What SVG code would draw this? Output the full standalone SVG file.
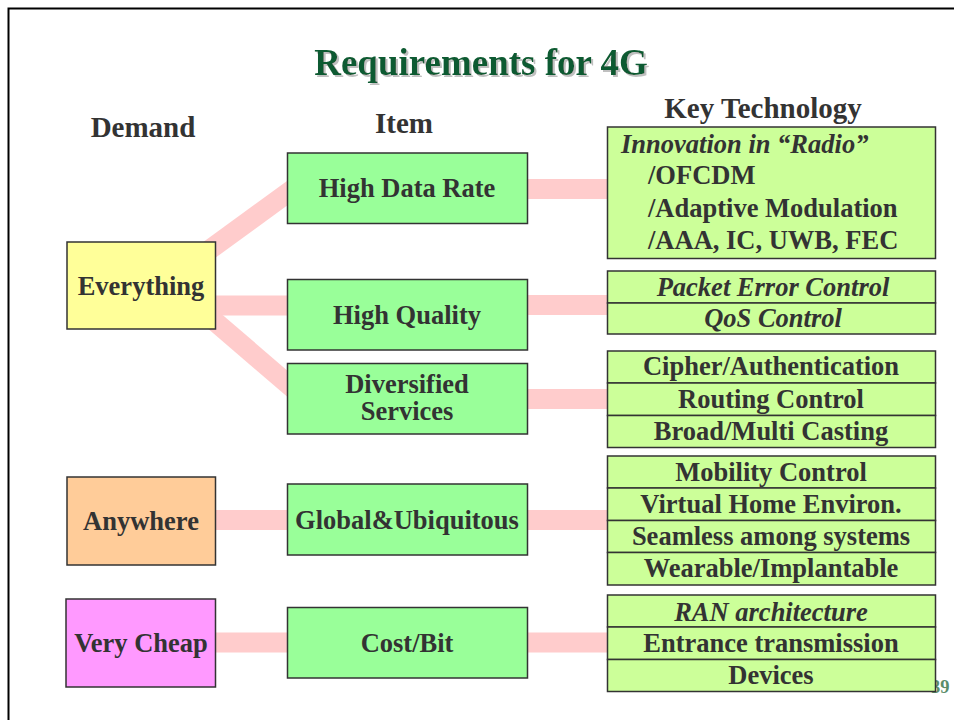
<svg xmlns="http://www.w3.org/2000/svg" width="954" height="720" viewBox="0 0 954 720">
  <style>
    .t { font-family: "Liberation Serif", "Times New Roman", serif; font-weight: bold; fill: #333333; }
    .b { font-size: 26.5px; }
    .c { text-anchor: middle; }
    .i { font-style: italic; }
    .h { font-size: 29px; }
    .box { stroke: #333333; stroke-width: 1.5; }
    .dem1 { fill: #ffff99; }
    .dem2 { fill: #ffcc99; }
    .dem3 { fill: #ff99ff; }
    .item { fill: #99ff99; }
    .tech { fill: #ccff99; }
    .link { stroke: #ffcccc; stroke-width: 20; fill: none; }
  </style>
  <defs>
    <!-- soft grey drop shadow for the title -->
    <filter id="titleShadow" x="-5%" y="-20%" width="110%" height="150%">
      <feOffset in="SourceAlpha" dx="2" dy="2" result="off"/>
      <feFlood flood-color="#c0c0c0"/>
      <feComposite in2="off" operator="in" result="shadow"/>
      <feMerge>
        <feMergeNode in="shadow"/>
        <feMergeNode in="SourceGraphic"/>
      </feMerge>
    </filter>
  </defs>

  <rect x="0" y="0" width="954" height="720" fill="#ffffff"/>

  <!-- slide frame -->
  <path d="M8.5 720 V8.5 H954" fill="none" stroke="#000000" stroke-width="2"/>

  <!-- title -->
  <g id="title">
    <text x="481" y="75" class="t c" filter="url(#titleShadow)" style="font-size:37px;fill:#0d5a30">Requirements for 4G</text>
  </g>

  <!-- column headers -->
  <g id="headers">
    <text x="143" y="137" class="t h c">Demand</text>
    <text x="404" y="133" class="t h c">Item</text>
    <text x="763" y="118" class="t h c">Key Technology</text>
  </g>

  <!-- page number (partly under the last technology box) -->
  <text x="931" y="693" class="t" style="font-size:18.5px;fill:#5b8d6b">39</text>

  <!-- connectors -->
  <g id="connectors">
    <line class="link" x1="205" y1="253" x2="297" y2="186"/>
    <line class="link" x1="205" y1="305.5" x2="297" y2="305.5"/>
    <line class="link" x1="205" y1="313" x2="297" y2="392"/>
    <line class="link" x1="520" y1="189" x2="615" y2="189"/>
    <line class="link" x1="520" y1="305" x2="615" y2="305"/>
    <line class="link" x1="520" y1="399" x2="615" y2="399"/>
    <line class="link" x1="205" y1="520" x2="615" y2="520"/>
    <line class="link" x1="205" y1="642.5" x2="615" y2="642.5"/>
  </g>

  <!-- demand nodes -->
  <g id="everything">
    <rect class="box dem1" x="67" y="242" width="148.5" height="87"/>
    <text x="141" y="295" class="t b c">Everything</text>
  </g>
  <g id="anywhere">
    <rect class="box dem2" x="67" y="477" width="148.5" height="88"/>
    <text x="141" y="530" class="t b c">Anywhere</text>
  </g>
  <g id="very-cheap">
    <rect class="box dem3" x="66" y="599" width="149.5" height="88"/>
    <text x="141" y="652" class="t b c">Very Cheap</text>
  </g>

  <!-- item nodes -->
  <g id="high-data-rate">
    <rect class="box item" x="287.5" y="153" width="240" height="70.5"/>
    <text x="407" y="197" class="t b c">High Data Rate</text>
  </g>
  <g id="high-quality">
    <rect class="box item" x="287.5" y="279.5" width="240" height="70.5"/>
    <text x="407" y="324" class="t b c">High Quality</text>
  </g>
  <g id="diversified-services">
    <rect class="box item" x="287.5" y="363.5" width="240" height="70.5"/>
    <text x="407" y="393" class="t b c">Diversified<tspan x="407" dy="27">Services</tspan></text>
  </g>
  <g id="global-ubiquitous">
    <rect class="box item" x="287.5" y="484" width="240" height="71"/>
    <text x="407" y="528.5" class="t b c">Global&amp;Ubiquitous</text>
  </g>
  <g id="cost-bit">
    <rect class="box item" x="287.5" y="607.5" width="240" height="70.5"/>
    <text x="407" y="652" class="t b c">Cost/Bit</text>
  </g>

  <!-- key technology nodes -->
  <g id="radio">
    <rect class="box tech" x="607.5" y="127" width="328" height="131.5"/>
    <text x="621" y="152.5" class="t b i">Innovation in “Radio”</text>
    <text x="648" y="184" class="t b">/OFCDM</text>
    <text x="648" y="216.5" class="t b">/Adaptive Modulation</text>
    <text x="648" y="248.5" class="t b">/AAA, IC, UWB, FEC</text>
  </g>
  <g id="quality-tech">
    <rect class="box tech" x="607.5" y="271" width="328" height="32"/>
    <rect class="box tech" x="607.5" y="303" width="328" height="31"/>
    <text x="773" y="296" class="t b c i">Packet Error Control</text>
    <text x="773" y="327" class="t b c i">QoS Control</text>
  </g>
  <g id="services-tech">
    <rect class="box tech" x="607.5" y="351" width="328" height="32"/>
    <rect class="box tech" x="607.5" y="383" width="328" height="32.5"/>
    <rect class="box tech" x="607.5" y="415.5" width="328" height="32"/>
    <text x="771" y="375" class="t b c">Cipher/Authentication</text>
    <text x="771" y="408" class="t b c">Routing Control</text>
    <text x="771" y="440" class="t b c">Broad/Multi Casting</text>
  </g>
  <g id="ubiquity-tech">
    <rect class="box tech" x="607.5" y="456" width="328" height="32"/>
    <rect class="box tech" x="607.5" y="488" width="328" height="32.5"/>
    <rect class="box tech" x="607.5" y="520.5" width="328" height="32"/>
    <rect class="box tech" x="607.5" y="552.5" width="328" height="32.5"/>
    <text x="771" y="481" class="t b c">Mobility Control</text>
    <text x="771" y="513" class="t b c">Virtual Home Environ.</text>
    <text x="771" y="544.5" class="t b c">Seamless among systems</text>
    <text x="771" y="577" class="t b c">Wearable/Implantable</text>
  </g>
  <g id="cost-tech">
    <rect class="box tech" x="607.5" y="595" width="328" height="32"/>
    <rect class="box tech" x="607.5" y="627" width="328" height="32.5"/>
    <rect class="box tech" x="607.5" y="659.5" width="328" height="32"/>
    <text x="771" y="620.5" class="t b c i">RAN architecture</text>
    <text x="771" y="652" class="t b c">Entrance transmission</text>
    <text x="771" y="684" class="t b c">Devices</text>
  </g>
</svg>
